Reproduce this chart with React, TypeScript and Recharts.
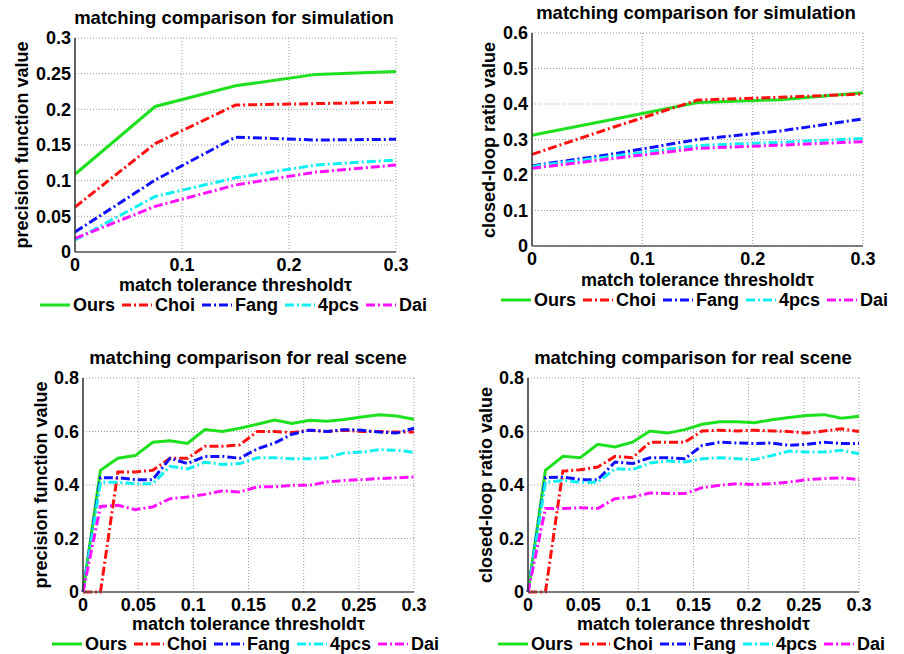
import React from "react";
import { LineChart, Line, XAxis, YAxis, CartesianGrid } from "recharts";

// series names + styles (matlab-ish: g-, r-., b-., c-., m-.)
const seriesNames = ["Ours", "Choi", "Fang", "4pcs", "Dai"];
const seriesColors = ["#1ee01e", "#ff1010", "#1010ff", "#10f0f0", "#ff10ff"];
const seriesDash = ["", "9 3 2 3", "9 3 2 3", "9 3 2 3", "9 3 2 3"];

// simulation: 5 thresholds
const simX = [0, 0.075, 0.15, 0.225, 0.3];

const simPrecOurs = [0.109, 0.204, 0.233, 0.249, 0.253];
const simPrecChoi = [0.063, 0.152, 0.206, 0.208, 0.21];
const simPrecFang = [0.028, 0.101, 0.161, 0.157, 0.158];
const simPrecPcs = [0.017, 0.078, 0.104, 0.122, 0.129];
const simPrecDai = [0.019, 0.064, 0.094, 0.112, 0.122];

const simLoopOurs = [0.312, 0.358, 0.404, 0.412, 0.432];
const simLoopChoi = [0.258, 0.336, 0.411, 0.419, 0.428];
const simLoopFang = [0.226, 0.26, 0.3, 0.324, 0.358];
const simLoopPcs = [0.224, 0.254, 0.283, 0.292, 0.303];
const simLoopDai = [0.219, 0.247, 0.275, 0.284, 0.294];

// real scene: 20 thresholds
const realX = [
  0, 0.0158, 0.0316, 0.0474, 0.0632, 0.0789, 0.0947, 0.1105, 0.1263, 0.1421,
  0.1579, 0.1737, 0.1895, 0.2053, 0.2211, 0.2368, 0.2526, 0.2684, 0.2842, 0.3,
];

const realPrecOurs = [
  0, 0.455, 0.5, 0.51, 0.56, 0.565, 0.555, 0.607, 0.6, 0.612,
  0.627, 0.643, 0.63, 0.642, 0.638, 0.645, 0.654, 0.663, 0.658, 0.646,
];
const realPrecChoi = [
  0, 0, 0.449, 0.449, 0.455, 0.5, 0.5, 0.545, 0.545, 0.55,
  0.6, 0.6, 0.596, 0.605, 0.6, 0.605, 0.6, 0.6, 0.598, 0.598,
];
const realPrecFang = [
  0, 0.427, 0.427, 0.42, 0.42, 0.5, 0.48, 0.507, 0.507, 0.5,
  0.535, 0.557, 0.59, 0.605, 0.6, 0.607, 0.605, 0.598, 0.594, 0.612,
];
const realPrecPcs = [
  0, 0.41, 0.41, 0.405, 0.405, 0.47, 0.46, 0.485, 0.477, 0.48,
  0.502, 0.502, 0.498, 0.498, 0.502, 0.52, 0.523, 0.532, 0.53, 0.522,
];
const realPrecDai = [
  0, 0.32, 0.324, 0.308, 0.318, 0.349, 0.355, 0.365, 0.378, 0.374,
  0.393, 0.393, 0.399, 0.399, 0.411, 0.417, 0.42, 0.424, 0.427, 0.43,
];

const realLoopOurs = [
  0, 0.455, 0.507, 0.502, 0.552, 0.542, 0.56, 0.602, 0.594, 0.607,
  0.627, 0.636, 0.636, 0.633, 0.644, 0.652, 0.66, 0.663, 0.65, 0.657,
];
const realLoopChoi = [
  0, 0, 0.452, 0.457, 0.467, 0.507, 0.502, 0.56, 0.56, 0.56,
  0.602, 0.605, 0.602, 0.605, 0.602, 0.6, 0.594, 0.602, 0.61, 0.6,
];
const realLoopFang = [
  0, 0.427, 0.43, 0.42, 0.42, 0.486, 0.48, 0.502, 0.502, 0.498,
  0.548, 0.56, 0.557, 0.555, 0.557, 0.548, 0.552, 0.56, 0.555, 0.555,
];
const realLoopPcs = [
  0, 0.41, 0.417, 0.41, 0.41, 0.461, 0.457, 0.482, 0.49, 0.486,
  0.498, 0.502, 0.498, 0.495, 0.51, 0.527, 0.523, 0.523, 0.53, 0.517,
];
const realLoopDai = [
  0, 0.312, 0.312, 0.315, 0.312, 0.349, 0.355, 0.37, 0.368, 0.368,
  0.39, 0.399, 0.405, 0.402, 0.405, 0.411, 0.42, 0.424, 0.427, 0.42,
];

const simXTicks = [0, 0.1, 0.2, 0.3];
const realXTicks = [0, 0.05, 0.1, 0.15, 0.2, 0.25, 0.3];
const simPrecTicks = [0, 0.05, 0.1, 0.15, 0.2, 0.25, 0.3];
const simLoopTicks = [0, 0.1, 0.2, 0.3, 0.4, 0.5, 0.6];
const realTicks = [0, 0.2, 0.4, 0.6, 0.8];

const xLabel = "match tolerance thresholdτ";
const font = '"Liberation Sans", Arial, sans-serif';

function rows(xs: number[], ys: number[][]) {
  return xs.map((x, i) => {
    const r: Record<string, number> = { x };
    seriesNames.forEach((n, k) => (r[n] = ys[k][i]));
    return r;
  });
}

type PanelProps = {
  left: number;
  top: number;
  w: number;
  h: number;
  plot: { l: number; t: number; r: number; b: number };
  data: Record<string, number>[];
  xTicks: number[];
  yTicks: number[];
  title: string;
  titleX: number;
  titleY: number;
  yLabel: string;
  yLabelX: number;
  xLabelY: number;
  legendX: number;
  legendY: number;
};

const textBase: React.CSSProperties = {
  position: "absolute",
  whiteSpace: "nowrap",
  fontFamily: font,
  fontWeight: "bold",
  lineHeight: 1,
};

function Legend2({ x, y }: { x: number; y: number }) {
  return (
    <div
      style={{
        ...textBase,
        left: x,
        top: y,
        transform: "translateY(-50%)",
        display: "flex",
        alignItems: "center",
        fontSize: 18,
      }}
    >
      {seriesNames.map((n, k) => (
        <div key={n} style={{ display: "flex", alignItems: "center", marginRight: 7 }}>
          <svg width={30} height={6} style={{ marginRight: 3, display: "block" }}>
            <line
              x1={0}
              y1={3}
              x2={30}
              y2={3}
              stroke={seriesColors[k]}
              strokeWidth={3}
              strokeDasharray={seriesDash[k] || undefined}
            />
          </svg>
          <span>{n}</span>
        </div>
      ))}
    </div>
  );
}

function Panel(p: PanelProps) {
  const yAxisW = 60;
  const xAxisH = 30;
  const margin = {
    top: p.plot.t,
    left: p.plot.l - yAxisW,
    right: p.w - p.plot.r,
    bottom: p.h - xAxisH - p.plot.b,
  };
  const tick = { fill: "#000", fontSize: 18, fontWeight: "bold", fontFamily: font };
  const cx = (p.plot.l + p.plot.r) / 2;
  const cy = (p.plot.t + p.plot.b) / 2;
  return (
    <div style={{ position: "absolute", left: p.left, top: p.top, width: p.w, height: p.h }}>
      <LineChart width={p.w} height={p.h} data={p.data} margin={margin}>
        <CartesianGrid stroke="#999" strokeDasharray="1 2" />
        <XAxis
          dataKey="x"
          type="number"
          domain={[0, 0.3]}
          ticks={p.xTicks}
          tickFormatter={(v) => String(v)}
          tick={tick}
          tickLine={false}
          tickSize={3}
          tickMargin={3}
          axisLine={{ stroke: "#555", strokeWidth: 1.5 }}
          height={xAxisH}
          interval={0}
        />
        <YAxis
          type="number"
          domain={[p.yTicks[0], p.yTicks[p.yTicks.length - 1]]}
          ticks={p.yTicks}
          tickFormatter={(v) => String(v)}
          tick={tick}
          tickLine={false}
          tickSize={3}
          tickMargin={1}
          axisLine={{ stroke: "#333", strokeWidth: 1.5 }}
          width={yAxisW}
          interval={0}
        />
        {seriesNames.map((n, k) => (
          <Line
            key={n}
            type="linear"
            dataKey={n}
            stroke={seriesColors[k]}
            strokeWidth={3}
            strokeDasharray={seriesDash[k] || undefined}
            dot={false}
            isAnimationActive={false}
          />
        ))}
      </LineChart>
      <div
        style={{
          ...textBase,
          left: p.titleX,
          top: p.titleY,
          transform: "translate(-50%, -50%)",
          fontSize: 18.5,
        }}
      >
        {p.title}
      </div>
      <div
        style={{
          ...textBase,
          left: p.yLabelX,
          top: cy,
          transform: "translate(-50%, -50%) rotate(-90deg)",
          fontSize: 18,
        }}
      >
        {p.yLabel}
      </div>
      <div
        style={{
          ...textBase,
          left: cx,
          top: p.xLabelY,
          transform: "translate(-50%, -50%)",
          fontSize: 18,
        }}
      >
        {xLabel}
      </div>
      <Legend2 x={p.legendX} y={p.legendY} />
    </div>
  );
}

export default function App() {
  const simPrec = rows(simX, [simPrecOurs, simPrecChoi, simPrecFang, simPrecPcs, simPrecDai]);
  const simLoop = rows(simX, [simLoopOurs, simLoopChoi, simLoopFang, simLoopPcs, simLoopDai]);
  const realPrec = rows(realX, [realPrecOurs, realPrecChoi, realPrecFang, realPrecPcs, realPrecDai]);
  const realLoop = rows(realX, [realLoopOurs, realLoopChoi, realLoopFang, realLoopPcs, realLoopDai]);
  return (
    <div
      style={{
        position: "absolute",
        left: 0,
        top: 0,
        width: 904,
        height: 654,
        background: "#fff",
        overflow: "hidden",
      }}
    >
      <Panel
        left={0}
        top={0}
        w={450}
        h={325}
        plot={{ l: 75, t: 38, r: 396, b: 252 }}
        data={simPrec}
        xTicks={simXTicks}
        yTicks={simPrecTicks}
        title="matching comparison for simulation"
        titleX={234}
        titleY={18}
        yLabel="precision function value"
        yLabelX={22}
        xLabelY={285}
        legendX={40}
        legendY={305}
      />
      <Panel
        left={450}
        top={0}
        w={454}
        h={325}
        plot={{ l: 82, t: 33, r: 413, b: 246 }}
        data={simLoop}
        xTicks={simXTicks}
        yTicks={simLoopTicks}
        title="matching comparison for simulation"
        titleX={246}
        titleY={13}
        yLabel="closed-loop ratio value"
        yLabelX={39}
        xLabelY={280}
        legendX={51}
        legendY={300}
      />
      <Panel
        left={0}
        top={325}
        w={450}
        h={329}
        plot={{ l: 83, t: 53, r: 414, b: 267 }}
        data={realPrec}
        xTicks={realXTicks}
        yTicks={realTicks}
        title="matching comparison for real scene"
        titleX={248}
        titleY={33}
        yLabel="precision function value"
        yLabelX={41}
        xLabelY={299}
        legendX={52}
        legendY={318.5}
      />
      <Panel
        left={450}
        top={325}
        w={454}
        h={329}
        plot={{ l: 78, t: 53, r: 409, b: 267 }}
        data={realLoop}
        xTicks={realXTicks}
        yTicks={realTicks}
        title="matching comparison for real scene"
        titleX={243}
        titleY={33}
        yLabel="closed-loop ratio value"
        yLabelX={36}
        xLabelY={299}
        legendX={48}
        legendY={318.5}
      />
    </div>
  );
}
